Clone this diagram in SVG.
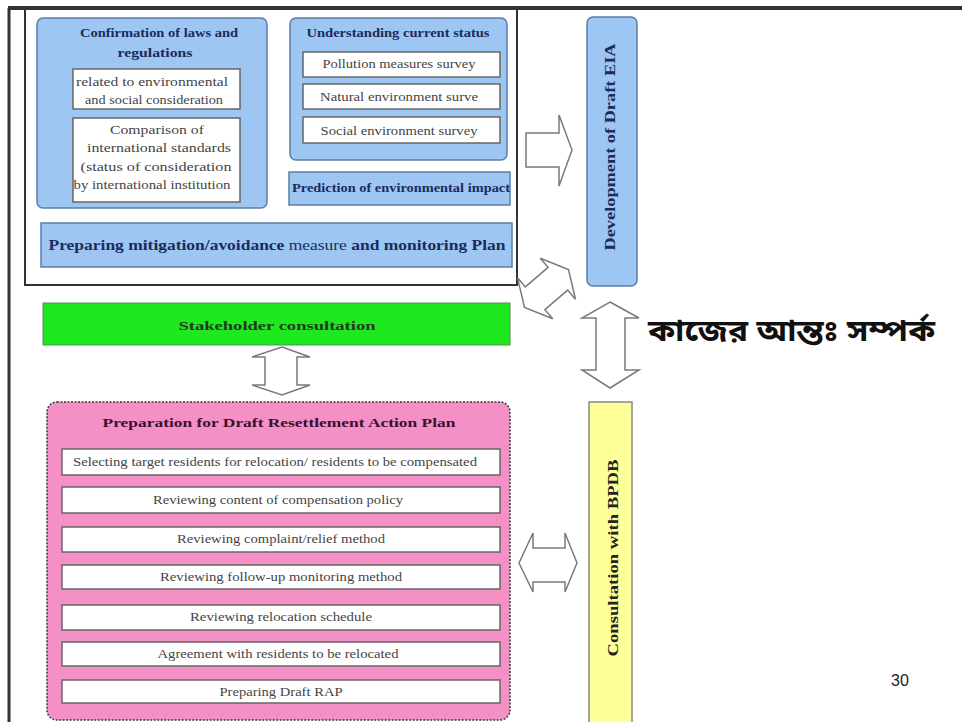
<svg xmlns="http://www.w3.org/2000/svg" width="962" height="722" viewBox="0 0 962 722">
<style>
.blue{fill:#9dc6f2;stroke:#5b7ea6;stroke-width:1.5}
.wbox{fill:#fff;stroke:#666;stroke-width:1.5}
.arrow{fill:#fff;stroke:#7a7a7a;stroke-width:1.5;stroke-linejoin:miter}
.t{font-family:"Liberation Serif","Times New Roman",serif;font-size:11.5px;fill:#444;text-anchor:middle}
.tb{font-family:"Liberation Serif","Times New Roman",serif;font-weight:bold;font-size:11.5px;fill:#1c2b5c;text-anchor:middle}
.frame{fill:none;stroke:#333}
</style>
<rect x="0" y="0" width="962" height="722" fill="#fff"/>
<g id="frame">
<line class="frame" x1="8" y1="8" x2="962" y2="8" stroke-width="4"/>
<line class="frame" x1="9" y1="8" x2="9" y2="722" stroke-width="3"/>
<rect class="frame" x="25" y="8" width="492" height="277" stroke-width="2"/>
</g>
<g id="laws">
<rect class="blue" x="37" y="18" width="230" height="190" rx="6"/>
<text class="tb" x="159" y="37" textLength="158" lengthAdjust="spacingAndGlyphs">Confirmation of laws and</text>
<text class="tb" x="155" y="57" textLength="75" lengthAdjust="spacingAndGlyphs">regulations</text>
<rect class="wbox" x="73" y="69" width="167" height="40"/>
<text class="t" x="152" y="86" textLength="152" lengthAdjust="spacingAndGlyphs">related to environmental</text>
<text class="t" x="154" y="104" textLength="138" lengthAdjust="spacingAndGlyphs">and social consideration</text>
<rect class="wbox" x="73" y="118" width="167" height="84"/>
<text class="t" x="157" y="134" textLength="94" lengthAdjust="spacingAndGlyphs">Comparison of</text>
<text class="t" x="159" y="152" textLength="144" lengthAdjust="spacingAndGlyphs">international standards</text>
<text class="t" x="156" y="171" textLength="151" lengthAdjust="spacingAndGlyphs">(status of consideration</text>
<text class="t" x="152" y="189" textLength="157" lengthAdjust="spacingAndGlyphs">by international institution</text>
</g>
<g id="status">
<rect class="blue" x="290" y="18" width="217" height="142" rx="6"/>
<text class="tb" x="398" y="37" textLength="183" lengthAdjust="spacingAndGlyphs">Understanding current status</text>
<rect class="wbox" x="303" y="52" width="197" height="25"/>
<text class="t" x="399" y="68" textLength="153" lengthAdjust="spacingAndGlyphs">Pollution measures survey</text>
<rect class="wbox" x="303" y="84" width="197" height="25"/>
<text class="t" x="399" y="101" textLength="158" lengthAdjust="spacingAndGlyphs">Natural environment surve</text>
<rect class="wbox" x="303" y="117" width="197" height="26"/>
<text class="t" x="399" y="135" textLength="157" lengthAdjust="spacingAndGlyphs">Social environment survey</text>
</g>
<g id="prediction">
<rect class="blue" x="289" y="172" width="221" height="33"/>
<text class="tb" x="401" y="192" textLength="218" lengthAdjust="spacingAndGlyphs">Prediction of environmental impact</text>
</g>
<g id="mitigation">
<rect class="blue" x="41" y="223" width="471" height="44"/>
<text class="tb" x="277" y="250" style="font-size:14px" textLength="457" lengthAdjust="spacingAndGlyphs">Preparing mitigation/avoidance <tspan style="font-weight:normal">measure</tspan> and monitoring Plan</text>
</g>
<g id="stakeholder">
<rect x="43" y="303" width="467" height="42" fill="#1ee81e" stroke="#5a8a5a" stroke-width="1"/>
<text class="tb" x="277" y="330" style="font-size:13px;fill:#1f3a1f" textLength="197" lengthAdjust="spacingAndGlyphs">Stakeholder consultation</text>
</g>
<g id="rap">
<rect x="47" y="402" width="463" height="318" rx="10" fill="#f490c6" stroke="#3a3a3a" stroke-width="1.5" stroke-dasharray="2,1.5"/>
<text class="tb" x="279" y="427" style="font-size:13px;fill:#3a1030" textLength="353" lengthAdjust="spacingAndGlyphs">Preparation for Draft Resettlement Action Plan</text>
<rect class="wbox" x="62" y="449" width="438" height="26"/>
<text class="t" x="275" y="466" textLength="404" lengthAdjust="spacingAndGlyphs">Selecting target residents for relocation/ residents to be compensated</text>
<rect class="wbox" x="62" y="487" width="438" height="26"/>
<text class="t" x="278" y="504" textLength="250" lengthAdjust="spacingAndGlyphs">Reviewing content of compensation policy</text>
<rect class="wbox" x="62" y="527" width="438" height="25"/>
<text class="t" x="281" y="543" textLength="208" lengthAdjust="spacingAndGlyphs">Reviewing complaint/relief method</text>
<rect class="wbox" x="62" y="565" width="438" height="24"/>
<text class="t" x="281" y="581" textLength="242" lengthAdjust="spacingAndGlyphs">Reviewing follow-up monitoring method</text>
<rect class="wbox" x="62" y="605" width="438" height="25"/>
<text class="t" x="281" y="621" textLength="182" lengthAdjust="spacingAndGlyphs">Reviewing relocation schedule</text>
<rect class="wbox" x="62" y="642" width="438" height="24"/>
<text class="t" x="278" y="658" textLength="241" lengthAdjust="spacingAndGlyphs">Agreement with residents to be relocated</text>
<rect class="wbox" x="62" y="680" width="438" height="23"/>
<text class="t" x="281" y="696" textLength="123" lengthAdjust="spacingAndGlyphs">Preparing Draft RAP</text>
</g>
<g id="eia">
<rect class="blue" x="587" y="17" width="50" height="269" rx="6"/>
<text class="tb" transform="translate(615,147) rotate(-90)" style="font-size:14px" textLength="207" lengthAdjust="spacingAndGlyphs">Development of Draft EIA</text>
</g>
<g id="bpdb">
<rect x="589" y="402" width="43" height="330" fill="#ffff99" stroke="#888" stroke-width="1.5"/>
<text class="tb" transform="translate(618,558) rotate(-90)" style="font-size:14px;fill:#222" textLength="197" lengthAdjust="spacingAndGlyphs">Consultation with BPDB</text>
</g>
<g id="label">
<text x="648" y="341" style="font-family:'Noto Sans','Noto Sans Bengali',sans-serif;font-size:30px;font-weight:bold;fill:#111" textLength="287" lengthAdjust="spacingAndGlyphs">কাজের আন্তঃ সম্পর্ক</text>
</g>
<g id="pagenum">
<text x="900" y="686" style="font-family:'Liberation Sans',Arial,sans-serif;font-size:16px;fill:#222;text-anchor:middle">30</text>
</g>
<g id="connectors">
<polygon class="arrow" points="526,133 559,133 559,115 572,150 559,186 559,167 526,167"/>
<polygon class="arrow" transform="translate(546.5,288.5) rotate(-40.7)" points="-29,0 -15,-27 -15,-15 15,-15 15,-27 29,0 15,27 15,15 -15,15 -15,27"/>
<polygon class="arrow" points="610,302 639,318 625,318 625,370 639,370 610,388 582,370 596,370 596,318 582,318"/>
<polygon class="arrow" points="282,347 310,357 297,357 297,385 310,385 282,395 252,385 265,385 265,357 252,357"/>
<polygon class="arrow" points="519,563 533,533 533,548 565,548 565,533 577,563 565,592 565,582 533,582 533,592"/>
</g>
</svg>
